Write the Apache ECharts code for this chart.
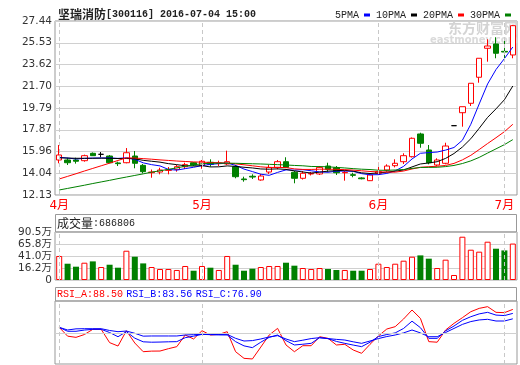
<!DOCTYPE html>
<html><head><meta charset="utf-8">
<script src="https://cdn.jsdelivr.net/npm/echarts@6/dist/echarts.min.js"></script>
<style>html,body{margin:0;padding:0;background:#fff}#c{width:520px;height:365px}</style>
</head><body><div id="c"></div>
<script>
const dates = ['2016-04-07','2016-04-08','2016-04-11','2016-04-12','2016-04-13','2016-04-14','2016-04-15','2016-04-18','2016-04-19','2016-04-20','2016-04-21','2016-04-22','2016-04-25','2016-04-26','2016-04-27','2016-04-28','2016-04-29',
'2016-05-03','2016-05-04','2016-05-05','2016-05-06','2016-05-09','2016-05-10','2016-05-11','2016-05-12','2016-05-13','2016-05-16','2016-05-17','2016-05-18','2016-05-19','2016-05-20','2016-05-23','2016-05-24','2016-05-25','2016-05-26','2016-05-27','2016-05-30','2016-05-31',
'2016-06-01','2016-06-02','2016-06-03','2016-06-06','2016-06-07','2016-06-08','2016-06-13','2016-06-14','2016-06-15','2016-06-16','2016-06-17','2016-06-27','2016-06-28','2016-06-29','2016-06-30',
'2016-07-01','2016-07-04'];
const opens  = [15.21,15.21,15.21,15.15,15.80,15.71,15.56,14.95,14.97,15.56,14.74,14.09,14.15,14.30,14.39,14.62,14.97,14.74,15.01,14.89,14.86,14.62,13.54,13.78,13.45,14.15,14.56,15.06,14.13,13.60,13.98,13.98,14.68,14.53,14.09,13.92,13.63,13.39,14.04,14.33,14.71,15.06,15.50,17.50,16.09,14.77,14.92,18.23,19.37,20.20,22.49,25.04,25.42,24.77,24.45];
const closes = [15.65,14.97,15.10,15.59,15.59,15.71,14.97,14.89,15.85,14.92,14.18,14.15,14.33,14.33,14.62,14.80,14.77,15.10,14.83,14.95,15.06,13.74,13.48,13.71,13.80,14.56,15.06,14.56,13.60,14.04,14.04,14.56,14.39,14.09,14.13,13.86,13.56,13.89,14.18,14.68,14.92,15.59,17.12,16.68,14.97,15.21,16.44,18.23,19.90,21.96,24.16,25.24,24.60,24.71,27.03];
const lows   = [14.92,14.77,14.89,15.06,15.56,15.45,14.92,14.68,14.92,14.48,14.04,13.65,13.95,13.95,14.18,14.42,14.68,14.44,14.62,14.68,14.77,13.60,13.30,13.54,13.39,13.98,14.39,14.50,13.16,13.49,13.85,13.89,14.18,13.89,13.39,13.69,13.51,13.36,13.92,14.18,14.56,14.86,15.43,16.29,14.83,14.68,14.83,18.23,18.14,19.96,22.01,23.86,24.16,24.16,24.16];
const highs  = [16.53,15.41,15.41,15.68,15.87,15.91,15.65,15.06,16.26,16.00,14.86,14.37,14.53,14.59,14.77,14.97,15.03,15.21,15.27,15.15,16.03,14.77,13.74,13.95,13.98,14.77,15.21,15.45,14.24,14.24,14.15,14.68,14.97,14.68,14.24,14.09,13.69,13.98,14.97,14.83,15.27,15.80,17.19,17.61,16.53,15.36,16.73,18.23,19.90,21.96,24.16,25.83,26.01,25.83,27.10];
const ma5  = [15.45,15.38,15.30,15.35,15.38,15.39,15.39,15.35,15.40,15.27,14.96,14.80,14.69,14.38,14.32,14.45,14.57,14.72,14.82,14.89,14.94,14.74,14.41,14.19,13.96,13.86,14.12,14.34,14.32,14.36,14.26,14.16,14.13,14.22,14.24,14.21,14.01,13.91,13.92,14.03,14.25,14.65,15.30,15.80,15.86,15.91,16.08,16.31,16.95,18.35,20.14,21.90,23.17,24.13,25.15];
const ma10 = [15.40,15.38,15.36,15.36,15.36,15.37,15.36,15.34,15.34,15.32,15.18,15.10,15.02,14.89,14.80,14.70,14.68,14.71,14.60,14.61,14.69,14.65,14.57,14.51,14.42,14.40,14.43,14.38,14.25,14.16,14.06,14.14,14.23,14.27,14.30,14.23,14.08,14.02,14.07,14.14,14.23,14.33,14.60,14.86,14.95,15.06,15.35,15.78,16.35,17.08,18.00,18.96,19.71,20.51,21.72];
const ma20 = [13.54,13.77,14.00,14.24,14.47,14.70,14.93,15.17,15.40,15.38,15.33,15.28,15.22,15.17,15.12,15.08,15.04,15.02,14.99,14.97,14.94,14.87,14.79,14.70,14.61,14.55,14.56,14.54,14.43,14.38,14.38,14.40,14.40,14.39,14.36,14.32,14.26,14.20,14.16,14.15,14.14,14.24,14.42,14.57,14.62,14.66,14.73,14.91,15.22,15.62,16.13,16.66,17.17,17.70,18.35];
const ma30 = [12.57,12.71,12.85,12.99,13.14,13.28,13.42,13.57,13.71,13.85,13.99,14.14,14.26,14.39,14.52,14.66,14.78,14.88,14.92,14.93,14.93,14.92,14.90,14.88,14.86,14.83,14.80,14.77,14.73,14.70,14.64,14.63,14.61,14.56,14.51,14.45,14.40,14.37,14.31,14.30,14.33,14.37,14.47,14.55,14.56,14.57,14.63,14.73,14.90,15.13,15.44,15.82,16.19,16.56,17.00];
const volumes = [45.3,30.7,25.1,32.6,35.1,24.5,28.8,23.2,55.2,43.9,31.3,24.5,20.7,20.7,18.9,26.4,17.5,26.4,23.2,18.9,45.3,28.8,17.5,21.3,24.5,26.4,26.4,32.6,27.0,22.6,20.7,22.6,20.7,18.9,18.9,17.5,17.5,20.7,30.7,24.5,30.7,36.4,43.9,46.4,40.2,22.6,38.3,9.4,81.6,57.1,53.4,72.2,59.0,55.8,68.68];
const rsiA = [66.4,55.5,54.0,57.5,63.9,63.9,47.5,43.3,62.2,47.0,36.3,37.0,37.1,40.0,42.5,56.9,52.0,62.2,56.9,57.7,61.0,36.3,28.1,27.3,42.0,56.9,65.1,44.6,36.3,43.7,43.7,54.8,52.8,44.6,45.4,38.4,34.3,45.4,55.7,64.3,67.2,76.7,87.8,77.5,48.7,48.0,63.1,71.3,78.3,85.7,89.8,91.9,84.9,84.5,88.50];
const rsiB = [66.4,61.5,61.5,63.0,63.9,63.9,60.0,54.8,61.0,53.0,48.5,48.0,48.2,48.5,48.7,53.6,55.5,57.7,57.3,57.0,56.9,48.7,43.5,41.3,48.0,54.0,56.9,50.0,44.6,45.5,46.6,53.6,52.4,49.0,46.6,44.5,42.5,48.0,55.0,57.5,59.5,65.0,74.0,66.0,52.8,52.8,62.0,68.0,75.0,79.5,83.0,84.9,81.5,80.9,83.56];
const rsiC = [66.4,63.1,64.5,64.7,64.7,64.7,62.5,61.0,61.8,59.0,55.5,55.7,55.7,55.7,55.7,56.9,57.3,57.7,57.5,57.5,57.7,52.8,49.5,50.0,52.0,54.5,56.1,52.0,48.7,50.5,52.5,53.6,52.5,51.5,50.7,48.5,46.6,49.5,52.5,55.0,56.9,59.5,63.1,59.5,54.8,54.8,60.0,65.0,70.0,73.5,75.5,76.3,74.2,74.2,76.90];
const priceTicks = ['12.13','14.04','15.96','17.87','19.79','21.70','23.62','25.53','27.44'];
const volTicks = ['0','16.2万','41.0万','65.8万','90.5万'];
const rsiTicks = ['0','59','97'];
const lastVolume = 686806;
const rsiRef = 59;

const UP = '#ff0000', DOWN = '#008000';
const FONT = 'DejaVu Sans, Noto Sans CJK SC, sans-serif';
const MONO = 'Liberation Mono, DejaVu Sans Mono, monospace';
const monthStart = dates.map((d, i) => i === 0 || d.slice(5, 7) !== dates[i - 1].slice(5, 7));
const vlines = dates.filter((d, i) => monthStart[i]).map(d => ({ xAxis: d }));
const vStyle = { color: '#c8c8c8', type: [4, 3], width: 1 };
function markV(extra) {
  return { silent: true, symbol: 'none', animation: false, label: { show: false },
           lineStyle: vStyle, data: vlines.concat(extra || []) };
}
const labelAxis = (grid, min, max, ticks, split) => ({
  type: 'value', gridIndex: grid, min, max, interval: 1,
  axisLine: { show: false }, axisTick: { show: false },
  splitLine: { show: split, lineStyle: { color: '#d0d0d0', width: 1 } },
  axisLabel: { margin: 3, color: '#333', fontSize: 10.5, fontFamily: FONT, showMinLabel: true, showMaxLabel: true,
    formatter: v => (Number.isInteger(v) && ticks[v] !== undefined) ? ticks[v] : '' }
});
const catAxis = (grid, showLabel) => ({
  type: 'category', gridIndex: grid, data: dates, boundaryGap: true,
  axisLine: { show: false }, axisTick: { show: false }, splitLine: { show: false },
  axisLabel: showLabel ? { show: true, interval: (i) => monthStart[i], margin: 5, color: '#ff0000', fontSize: 12, fontFamily: FONT,
    formatter: v => Number(v.slice(5, 7)) + '月' } : { show: false }
});
const lineSeries = (name, data, color, xi, yi) => ({
  name, type: 'line', data, xAxisIndex: xi, yAxisIndex: yi, showSymbol: false, symbol: 'none',
  lineStyle: { color, width: 1 }, itemStyle: { color }, smooth: false, animation: false
});

const gridBase = { left: 55, right: 3, show: true, borderColor: '#999', borderWidth: 1, backgroundColor: 'transparent' };
const chart = echarts.init(document.getElementById('c'));
chart.setOption({
  animation: false,
  backgroundColor: '#fff',
  title: {
    left: 53, top: 3,
    text: '{c|坚瑞消防}{a|[300116] 2016-07-04 15:00}',
    textStyle: { rich: {
      c: { fontSize: 12, fontFamily: 'Noto Sans CJK SC', color: '#222' },
      a: { fontSize: 10, fontFamily: MONO, color: '#222' } } }
  },
  legend: {
    right: 4, top: 5, align: 'right', icon: 'rect', itemWidth: 6, itemHeight: 3, itemGap: 6,
    textStyle: { fontSize: 10, fontFamily: MONO, color: '#222', padding: [0, 0, 0, 0] },
    data: ['5PMA', '10PMA', '20PMA', '30PMA'], selectedMode: false
  },
  grid: [
    Object.assign({ top: 21, height: 174 }, gridBase),
    Object.assign({ top: 232, height: 48 }, gridBase),
    Object.assign({ top: 301, height: 63 }, gridBase)
  ],
  xAxis: [catAxis(0, true), catAxis(1, false), catAxis(2, false)],
  yAxis: [
    labelAxis(0, 0, 8, priceTicks, true),
    { type: 'value', gridIndex: 0, min: 12.13, max: 27.44, show: false },
    labelAxis(1, 0, 4, volTicks, true),
    { type: 'value', gridIndex: 1, min: 0, max: 90.5, show: false },
    labelAxis(2, -0.4, 2.4, rsiTicks, false),
    { type: 'value', gridIndex: 2, min: 21.1, max: 98.9, show: false }
  ],
  graphic: [
    { type: 'text', left: 448, top: 21, z: 0, silent: true,
      style: { text: '东方财富网', fill: '#d4d4d4', font: 'bold 14px "Noto Sans CJK SC"' } },
    { type: 'text', left: 430, top: 35, z: 0, silent: true,
      style: { text: 'eastmoney.com', fill: '#dadada', font: 'bold 10px "DejaVu Sans"' } },
    { type: 'rect', z: 10, silent: true, shape: { x: 55.5, y: 214.5, width: 461, height: 17.5 },
      style: { fill: 'none', stroke: '#999', lineWidth: 1 } },
    { type: 'text', z: 10, left: 57, top: 217, silent: true,
      style: { text: '{c|成交量}{a|:' + lastVolume + '}', rich: {
        c: { fontSize: 12, fontFamily: 'Noto Sans CJK SC', fill: '#222' },
        a: { fontSize: 10, fontFamily: MONO, fill: '#222' } } } },
    { type: 'rect', z: 10, silent: true, shape: { x: 55.5, y: 287.5, width: 461, height: 13.5 },
      style: { fill: 'none', stroke: '#999', lineWidth: 1 } },
    { type: 'text', z: 10, left: 57, top: 288.5, silent: true,
      style: { text: '{a|RSI_A:' + rsiA[rsiA.length - 1].toFixed(2) + '} {b|RSI_B:' + rsiB[rsiB.length - 1].toFixed(2) + '} {b|RSI_C:' + rsiC[rsiC.length - 1].toFixed(2) + '}',
        rich: { a: { fontSize: 10, fontFamily: MONO, fill: '#ff0000' }, b: { fontSize: 10, fontFamily: MONO, fill: '#0000ff' } } } }
  ],
  series: [
    { name: 'K', type: 'candlestick', xAxisIndex: 0, yAxisIndex: 1, barWidth: 6,
      data: dates.map((d, i) => [opens[i], closes[i], lows[i], highs[i]]),
      itemStyle: { color: '#fff', color0: DOWN, borderColor: UP, borderColor0: DOWN, borderColorDoji: '#000', borderWidth: 1 },
      markLine: markV() },
    lineSeries('5PMA', ma5, '#0000ff', 0, 1),
    lineSeries('10PMA', ma10, '#000000', 0, 1),
    lineSeries('20PMA', ma20, '#ff0000', 0, 1),
    lineSeries('30PMA', ma30, '#008000', 0, 1),
    { name: 'VOL', type: 'bar', xAxisIndex: 1, yAxisIndex: 3, barWidth: 6,
      data: volumes.map((v, i) => ({ value: v, itemStyle: closes[i] >= opens[i]
        ? { color: '#fff', borderColor: UP, borderWidth: 1 } : { color: DOWN, borderColor: DOWN, borderWidth: 0 } })),
      markLine: markV() },
    Object.assign(lineSeries('RSI_A', rsiA, '#ff0000', 2, 5), { markLine: markV([{ yAxis: rsiRef, lineStyle: { color: '#d0d0d0', type: 'solid' } }]) }),
    lineSeries('RSI_B', rsiB, '#0000ff', 2, 5),
    lineSeries('RSI_C', rsiC, '#0000ff', 2, 5)
  ]
});
</script></body></html>
